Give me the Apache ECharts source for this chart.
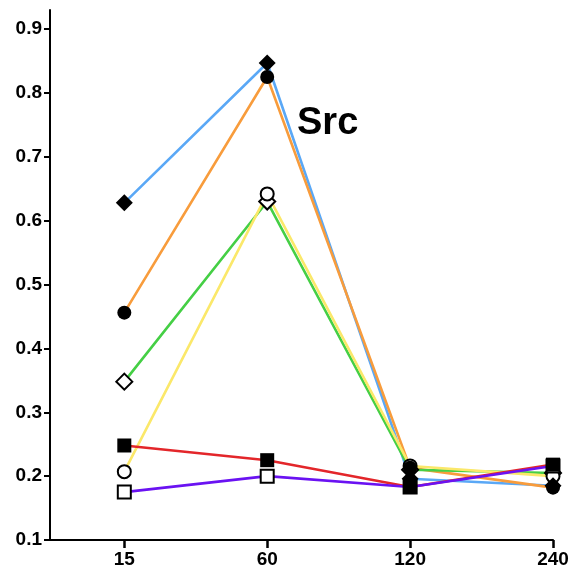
<!DOCTYPE html>
<html>
<head>
<meta charset="utf-8">
<script src="https://cdn.jsdelivr.net/npm/echarts@6/dist/echarts.min.js"></script>
<style>html,body{margin:0;padding:0;background:#fff}#c{width:572px;height:582px}</style>
</head>
<body>
<div id="c"></div>
<script>
const categories = ['15', '60', '120', '240'];
const yTicks = [0.1, 0.2, 0.3, 0.4, 0.5, 0.6, 0.7, 0.8, 0.9];
const blueDiamond   = [0.628, 0.847, 0.196, 0.185];
const orangeCircle  = [0.456, 0.825, 0.213, 0.182];
const greenDiamond  = [0.348, 0.630, 0.210, 0.205];
const yellowCircle  = [0.207, 0.642, 0.216, 0.200];
const redSquare     = [0.248, 0.225, 0.183, 0.218];
const purpleSquare  = [0.175, 0.200, 0.183, 0.216];

const seriesDefs = [
  {name: 'blue',   data: blueDiamond,  color: '#5aa8f6', symbol: 'diamond', filled: true,  size: 17},
  {name: 'orange', data: orangeCircle, color: '#f89c3c', symbol: 'circle',  filled: true,  size: 14},
  {name: 'green',  data: greenDiamond, color: '#45cf45', symbol: 'diamond', filled: false, size: 16},
  {name: 'yellow', data: yellowCircle, color: '#fbe86a', symbol: 'circle',  filled: false, size: 13},
  {name: 'red',    data: redSquare,    color: '#e3262a', symbol: 'rect',    filled: true,  size: 14},
  {name: 'purple', data: purpleSquare, color: '#6a12f2', symbol: 'rect',    filled: false, size: 13}
];

const pts = arr => arr.map((v, i) => [i, v]);
const series = [];
seriesDefs.forEach(d => {
  series.push({
    type: 'line', name: d.name, data: pts(d.data), symbol: 'none', z: 2,
    lineStyle: {color: d.color, width: 2.6}, animation: false, silent: true
  });
});
// open markers first, filled markers drawn on top
[...seriesDefs.filter(d => !d.filled), ...seriesDefs.filter(d => d.filled)].forEach(d => {
  series.push({
    type: 'scatter', name: d.name + '_m', data: pts(d.data), symbol: d.symbol, symbolSize: d.size,
    z: d.filled ? 4 : 3,
    itemStyle: {color: d.filled ? '#000' : '#fff', borderColor: '#000', borderWidth: d.filled ? 0 : 2, opacity: 1},
    animation: false, silent: true
  });
});

const chart = echarts.init(document.getElementById('c'));
chart.setOption({
  backgroundColor: '#fff',
  animation: false,
  grid: {left: 50, right: 19, top: 10, bottom: 42, containLabel: false},
  title: {text: 'Src', left: 292, top: 100, textStyle: {fontFamily: 'Liberation Sans', fontWeight: 'bold', fontSize: 38, color: '#000'}},
  xAxis: {
    type: 'value', min: -0.52, max: 3,
    splitLine: {show: false},
    axisLine: {onZero: false, lineStyle: {color: '#000', width: 2}},
    axisTick: {show: true, length: 8, lineStyle: {color: '#000', width: 2.5}, customValues: [0, 1, 2, 3]},
    axisLabel: {customValues: [0, 1, 2, 3], formatter: v => categories[Math.round(v)] || '', color: '#000',
      fontFamily: 'Liberation Sans', fontWeight: 'bold', fontSize: 19, margin: 10}
  },
  yAxis: {
    type: 'value', min: 0.1, max: 0.93,
    splitLine: {show: false},
    axisLine: {show: true, onZero: false, lineStyle: {color: '#000', width: 2}},
    axisTick: {show: true, length: 6, lineStyle: {color: '#000', width: 2}, customValues: yTicks},
    axisLabel: {customValues: yTicks, formatter: v => v.toFixed(1), color: '#000',
      fontFamily: 'Liberation Sans', fontWeight: 'bold', fontSize: 19, margin: 8}
  },
  series: series
});
</script>
</body>
</html>
